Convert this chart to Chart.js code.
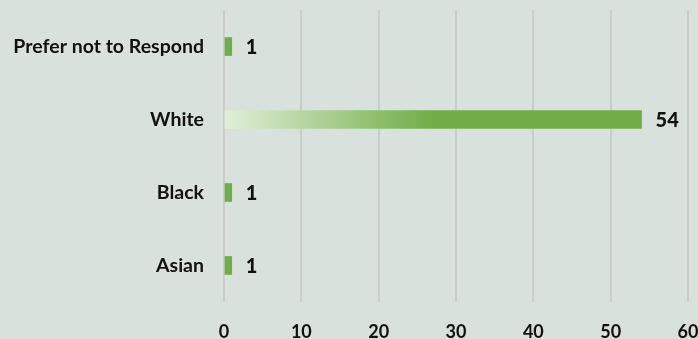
<!DOCTYPE html>
<html>
<head>
<meta charset="utf-8">
<script src="https://cdn.jsdelivr.net/npm/chart.js@4/dist/chart.umd.min.js"></script>
<style>
  html, body { margin: 0; padding: 0; background: #d9e1dd; }
  #wrap { width: 698px; height: 339px; }
</style>
</head>
<body>
<div id="wrap"><canvas id="chart"></canvas></div>
<script>
const categories = ['Prefer not to Respond', 'White', 'Black', 'Asian']
const counts = [1, 54, 1, 1]
const xTicks = [0, 10, 20, 30, 40, 50, 60]

const font = 'Lato, "Open Sans", sans-serif'

// value labels at the end of each bar
const valueLabels = {
  id: 'valueLabels',
  afterDatasetsDraw(chart) {
    const ctx = chart.ctx
    const meta = chart.getDatasetMeta(0)
    ctx.save()
    ctx.font = `900 20px ${font}`
    ctx.fillStyle = '#111'
    ctx.textBaseline = 'middle'
    ctx.textAlign = 'left'
    meta.data.forEach((bar, i) => {
      ctx.fillText(counts[i], bar.x + 14, bar.y + 1)
    })
    ctx.restore()
  }
}

const barFill = (context) => {
  const chart = context.chart
  const value = counts[context.dataIndex]
  const xScale = chart.scales.x
  if (!xScale || value < 10) return '#70ad47'
  const x0 = xScale.getPixelForValue(0)
  const x1 = xScale.getPixelForValue(value)
  const g = chart.ctx.createLinearGradient(x0, 0, x1, 0)
  g.addColorStop(0, '#e2efd9')
  g.addColorStop(0.5, '#70ad47')
  g.addColorStop(1, '#70ad47')
  return g
}

new Chart(document.getElementById('chart'), {
  type: 'bar',
  data: {
    labels: categories,
    datasets: [{
      data: counts,
      backgroundColor: barFill,
      barThickness: 18,
      borderWidth: 0
    }]
  },
  options: {
    indexAxis: 'y',
    responsive: true,
    maintainAspectRatio: false,
    animation: false,
    layout: { padding: { top: 10, right: 10, left: 0, bottom: 0 } },
    plugins: {
      legend: { display: false },
      tooltip: { enabled: false }
    },
    scales: {
      x: {
        min: 0,
        max: 60,
        afterBuildTicks(scale) {
          scale.ticks = xTicks.map(v => ({ value: v }))
        },
        afterFit(scale) {
          scale.height = 37
          scale.paddingLeft = 0
          scale.paddingRight = 0
        },
        grid: {
          color: '#cbcccc',
          lineWidth: 2,
          drawTicks: false
        },
        border: { display: false },
        ticks: {
          padding: 19,
          color: '#111',
          font: { family: font, size: 18, weight: 'bold' },
          maxRotation: 0
        }
      },
      y: {
        afterFit(scale) {
          scale.width = 224
          scale.paddingTop = 0
          scale.paddingBottom = 0
        },
        grid: { display: false },
        border: { display: false },
        ticks: {
          padding: 12,
          color: '#111',
          font: { family: font, size: 19.5, weight: 'bold' }
        }
      }
    }
  },
  plugins: [valueLabels]
})
</script>
</body>
</html>
